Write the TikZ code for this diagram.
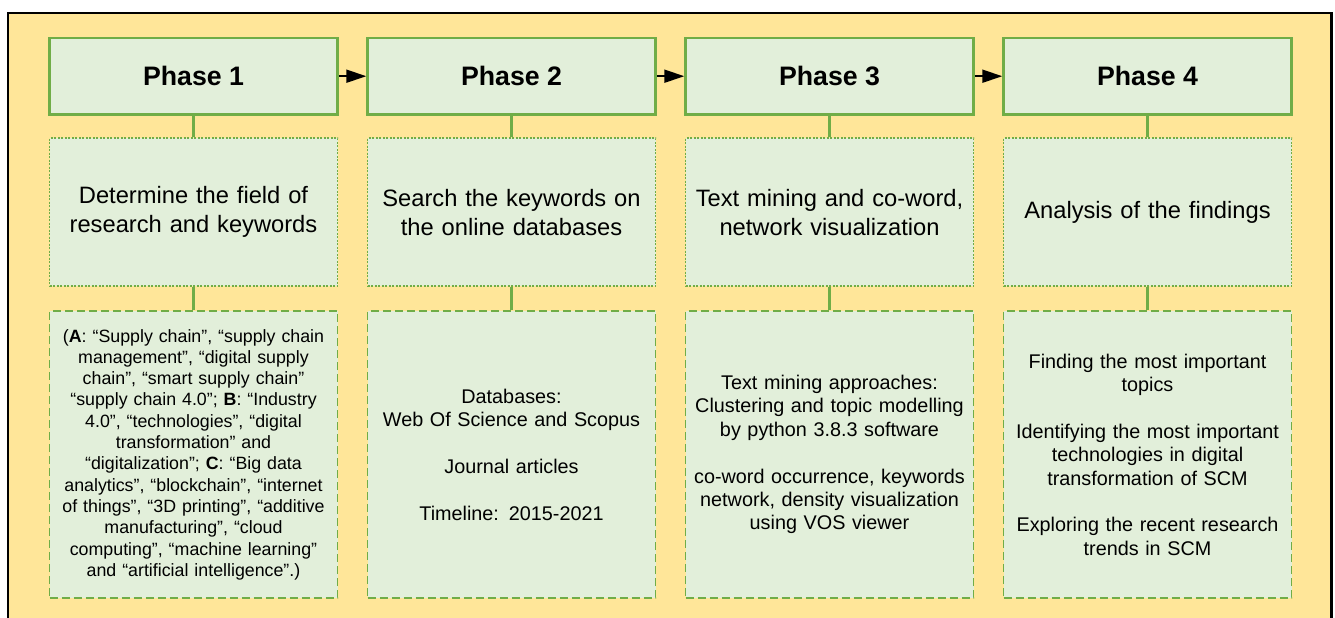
\documentclass[tikz,border=0pt]{standalone}
\usepackage{fontspec}
\setmainfont{Liberation Sans}
\usetikzlibrary{arrows.meta}
\definecolor{frameorange}{HTML}{FFE699}
\definecolor{boxgreen}{HTML}{E2EFDA}
\definecolor{linegreen}{HTML}{70AD47}
\begin{document}
\begin{tikzpicture}[x=1pt,y=-1pt,
  phasebox/.style={draw=linegreen, fill=boxgreen, line width=2.5pt, minimum width=288pt, minimum height=76.5pt, inner sep=0pt, font=\fontsize{26.7}{32}\selectfont\bfseries},
  midbox/.style={draw=linegreen, fill=boxgreen, line width=1.5pt, dash pattern=on 2pt off 1.5pt, minimum width=288pt, minimum height=148pt, inner sep=0pt, text width=280pt, align=center, font=\fontsize{23.7}{29}\selectfont},
  botbox/.style={draw=linegreen, fill=boxgreen, line width=1.5pt, dash pattern=on 8pt off 4pt, minimum width=288pt, minimum height=287pt, inner sep=0pt, text width=282pt, align=center, font=\fontsize{19.8}{23.4}\selectfont},
  link/.style={draw=linegreen, line width=3pt},
  flow/.style={draw=black, line width=2pt, -{Triangle[length=20pt,width=13pt]}}
]
\useasboundingbox (0,0) rectangle (1335,618);
\clip (0,0) rectangle (1335,618);
\draw[fill=frameorange, line width=2.5pt] (8,12.8) rectangle (1331.5,660);

\node[phasebox] (p1) at (193.5,76.2) {Phase 1};
\node[phasebox] (p2) at (511.5,76.2) {Phase 2};
\node[phasebox] (p3) at (829.5,76.2) {Phase 3};
\node[phasebox] (p4) at (1147.5,76.2) {Phase 4};

\node[midbox] (m1) at (193.5,212.2) {Determine the field of\\research and keywords};
\node[midbox] (m2) at (511.5,212.2) {Search the keywords on\\the online databases};
\node[midbox] (m3) at (829.5,212.2) {Text mining and co-word,\\network visualization};
\node[midbox] (m4) at (1147.5,212.2) {Analysis of the findings};

\node[botbox, font=\fontsize{17.8}{21.3}\selectfont] (b1) at (193.5,454.6) {(\textbf{A}: “Supply chain”, “supply chain\\management”, “digital supply\\chain”, “smart supply chain”\\“supply chain 4.0”; \textbf{B}: “Industry\\4.0”, “technologies”, “digital\\transformation” and\\“digitalization”; \textbf{C}: “Big data\\analytics”, “blockchain”, “internet\\of things”, “3D printing”, “additive\\manufacturing”, “cloud\\computing”, “machine learning”\\and “artificial intelligence”.)};
\node[botbox] (b2) at (511.5,454.6) {Databases:\\Web Of Science and Scopus\\[23.4pt]Journal articles\\[23.4pt]Timeline: 2015-2021};
\node[botbox] (b3) at (829.5,454.6) {Text mining approaches:\\Clustering and topic modelling\\by python 3.8.3 software\\[23.4pt]co-word occurrence, keywords\\network, density visualization\\using VOS viewer};
\node[botbox] (b4) at (1147.5,454.6) {Finding the most important\\topics\\[23.4pt]Identifying the most important\\technologies in digital\\transformation of SCM\\[23.4pt]Exploring the recent research\\trends in SCM};

\draw[link] (p1.south) -- (m1.north);
\draw[link] (m1.south) -- (b1.north);
\draw[link] (p2.south) -- (m2.north);
\draw[link] (m2.south) -- (b2.north);
\draw[link] (p3.south) -- (m3.north);
\draw[link] (m3.south) -- (b3.north);
\draw[link] (p4.south) -- (m4.north);
\draw[link] (m4.south) -- (b4.north);

\draw[flow] (p1.east) -- (p2.west);
\draw[flow] (p2.east) -- (p3.west);
\draw[flow] (p3.east) -- (p4.west);
\end{tikzpicture}
\end{document}
